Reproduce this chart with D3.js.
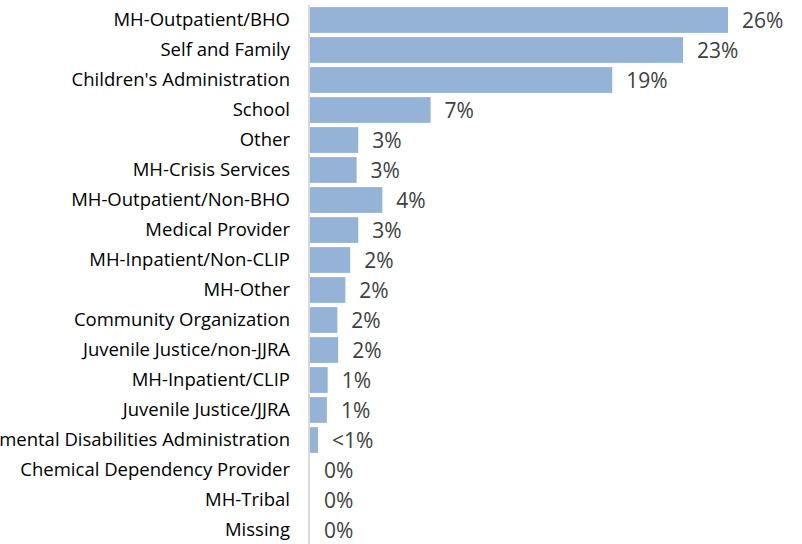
<!DOCTYPE html>
<html>
<head>
<meta charset="utf-8">
<script src="https://cdn.jsdelivr.net/npm/d3@7"></script>
<style>
  body { margin: 0; background: #fff; }
  svg { display: block; }
</style>
</head>
<body>
<svg class="chart"></svg>
<script>
const categories = [
  "MH-Outpatient/BHO", "Self and Family", "Children's Administration", "School",
  "Other", "MH-Crisis Services", "MH-Outpatient/Non-BHO", "Medical Provider",
  "MH-Inpatient/Non-CLIP", "MH-Other", "Community Organization",
  "Juvenile Justice/non-JJRA", "MH-Inpatient/CLIP", "Juvenile Justice/JJRA",
  "Developmental Disabilities Administration", "Chemical Dependency Provider",
  "MH-Tribal", "Missing"
];
const values = [26, 23.2, 18.8, 7.5, 3.0, 2.9, 4.5, 3.0, 2.5, 2.2, 1.7, 1.75, 1.1, 1.05, 0.5, 0, 0, 0];
const valueLabels = ["26%", "23%", "19%", "7%", "3%", "3%", "4%", "3%", "2%", "2%", "2%", "2%", "1%", "1%", "<1%", "0%", "0%", "0%"];

const width = 802, height = 544;
const margin = { top: 5, right: 74, bottom: 0, left: 310 };

const svg = d3.select(".chart")
    .attr("width", width)
    .attr("height", height);

const x = d3.scaleLinear()
    .domain([0, 26])
    .range([margin.left, width - margin.right]);

const y = d3.scaleBand()
    .domain(categories)
    .range([margin.top, margin.top + 30 * categories.length])
    .paddingInner(0.14)
    .paddingOuter(0.07);

const rows = categories.map((c, i) => ({ c, v: values[i], label: valueLabels[i] }));

svg.selectAll(".bar")
    .data(rows)
    .enter().append("rect")
    .attr("class", "bar")
    .attr("x", x(0))
    .attr("y", d => y(d.c))
    .attr("width", d => x(d.v) - x(0))
    .attr("height", y.bandwidth())
    .attr("fill", "#95b3d7");

// category axis
const axis = svg.append("g")
    .attr("transform", `translate(${x(0) - 1}, 0)`)
    .call(d3.axisLeft(y).tickSize(0).tickPadding(19));
axis.select(".domain").attr("stroke", "#d9d9d9").attr("stroke-width", 2)
    .attr("d", `M0,${margin.top}V${height}`);
axis.selectAll("text")
    .attr("font-family", "'Open Sans', sans-serif")
    .attr("font-size", 18.5)
    .attr("fill", "#000");

svg.selectAll(".val")
    .data(rows)
    .enter().append("text")
    .attr("class", "val")
    .attr("x", d => x(d.v) + 14)
    .attr("y", d => y(d.c) + y.bandwidth() / 2)
    .attr("dy", "0.36em")
    .attr("font-family", "'Open Sans', sans-serif")
    .attr("font-size", 21)
    .attr("fill", "#404040")
    .text(d => d.label);
</script>
</body>
</html>
